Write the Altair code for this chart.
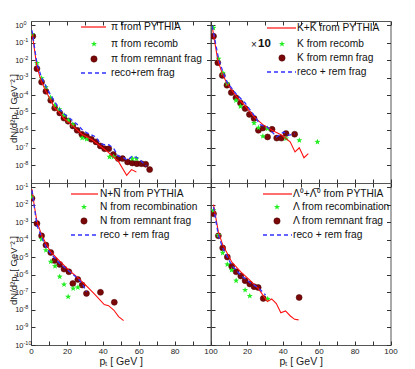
import math
import altair as alt
import pandas as pd

FONT = "Liberation Sans"
RED = "#ff1010"
GREEN = "#22ee22"
BROWN = "#7a0808"
BLUE = "#3030ff"
W, H = 179.5, 162

# ---------------- data ----------------
# pion panel
pi_pythia_pt = [0.55, 3.3, 5.9, 8.3, 11, 13.2, 16, 18.3, 23.3, 28.3, 33.6, 38.6, 43.3, 48.6, 53.3, 56, 58.7]
pi_pythia_y = [4.0e-1, 4.1e-3, 5.6e-4, 1.66e-4, 5.1e-5, 1.86e-5, 9.8e-6, 4.7e-6, 1.78e-6, 6.0e-7,
               3.1e-7, 1.29e-7, 5.4e-8, 1.74e-8, 2.75e-9, 5.8e-9, 4.3e-9]
pi_reco_pt = [0.55, 3.3, 5.9, 8.3, 10.8, 13.2, 15.8, 18.4, 20.8, 23.3, 28.5, 31, 43.7, 46, 56.4, 58.8]
pi_reco_y = [2.95e-1, 6.8e-3, 9.3e-4, 2.9e-4, 7.4e-5, 2.7e-5, 1.58e-5, 7.2e-6, 3.7e-6, 2.14e-6,
             3.7e-7, 3.1e-7, 3.1e-8, 3.1e-8, 2.45e-8, 2.45e-8]
pi_rem_pt = [1, 3.3, 5.9, 8.3, 11, 13.2, 16, 18.3, 20.7, 23.3, 25.7, 28.3, 30.9, 33.6, 36.2, 38.6,
             41, 43.3, 45.9, 48.6, 51, 53.8, 56.4, 59, 61.5, 63.9, 66.1]
pi_rem_y = [2.3e-1, 3.24e-3, 5.6e-4, 1.66e-4, 5.1e-5, 1.86e-5, 9.8e-6, 5.0e-6, 3.3e-6, 1.78e-6,
            1.0e-6, 6.0e-7, 4.6e-7, 3.1e-7, 2.2e-7, 1.29e-7, 8.9e-8, 8.9e-8, 4.2e-8, 2.45e-8,
            2.45e-8, 1.58e-8, 1.38e-8, 1.26e-8, 1.26e-8, 1.17e-8, 5.8e-9]
pi_sum_pt = [0.55, 3.3, 5.9, 8.3, 11, 13.2, 16, 18.4, 20.8, 23.3, 25.7, 28.3, 30.9, 33.6, 36.2,
             38.6, 41, 43.3, 45.9, 48.6, 51, 53.8, 56.4, 59, 61.5, 64.3]
pi_sum_y = [5.0e-1, 6.3e-3, 1.0e-3, 3.2e-4, 1.0e-4, 4.2e-5, 1.58e-5, 8.9e-6, 5.8e-6, 3.4e-6,
            2.2e-6, 1.15e-6, 7.4e-7, 5.6e-7, 4.2e-7, 1.74e-7, 1.51e-7, 1.51e-7, 9.8e-8, 3.5e-8,
            3.0e-8, 1.95e-8, 3.5e-8, 2.8e-8, 1.74e-8, 9.3e-9]

# kaon panel
k_pythia_pt = [0.7, 3.8, 6.3, 8.9, 13.9, 19, 24, 28.9, 34, 39.5, 44.1, 46.8, 49.2, 51.8, 54.2]
k_pythia_y = [7.8e-1, 9.8e-3, 1.7e-3, 4.6e-4, 9.1e-5, 2.45e-5, 5.8e-6, 2.1e-6, 1.0e-6, 5.2e-7,
              2.2e-7, 5.9e-8, 1.02e-7, 2.75e-8, 4.7e-8]
k_reco_pt = [1.4, 4.2, 6.6, 9.1, 13.9, 16.4, 24, 26.4, 28.9, 31.5, 41.8, 49.2, 59.3]
k_reco_y = [6.8e-1, 1.2e-2, 1.86e-3, 4.6e-4, 5.1e-5, 2.3e-5, 2.6e-6, 1.41e-6, 4.6e-7, 1.26e-6,
            3.4e-7, 2.7e-7, 2.2e-7]
k_rem_pt = [1.4, 3.8, 6.3, 8.9, 11.3, 13.9, 16.4, 19, 21.4, 24, 26.4, 28.9, 31.5, 34, 36.6, 39.2,
            41.8, 46.6]
k_rem_y = [2.3e-1, 7.1e-3, 1.35e-3, 3.7e-4, 1.41e-4, 7.2e-5, 3.6e-5, 1.74e-5, 8.1e-6, 4.7e-6,
           1.0e-6, 1.35e-6, 4.2e-7, 1.15e-6, 3.6e-7, 3.6e-7, 6.5e-7, 6.0e-7]
k_sum_pt = [0.7, 4.2, 6.6, 9.1, 13.9, 19, 24, 27.4, 31.5, 36.6, 40.4, 43.2, 46.6]
k_sum_y = [8.9e-1, 1.2e-2, 2.2e-3, 5.2e-4, 1.23e-4, 3.6e-5, 7.2e-6, 2.1e-6, 1.55e-6, 4.2e-7,
           8.1e-7, 5.2e-7, 6.5e-7]

# nucleon panel
n_pythia_pt = [0.55, 1.8, 3.3, 5.9, 8.3, 11, 16, 21.1, 26.1, 30.9, 35.8, 40.8, 43.2, 46.1, 48.8, 51.6]
n_pythia_y = [7.4e-2, 9.1e-3, 1.12e-3, 1.82e-4, 6.0e-5, 2.0e-5, 6.0e-6, 1.86e-6, 6.8e-7, 2.3e-7,
              7.1e-8, 2.0e-8, 1.74e-8, 9.8e-9, 4.1e-9, 2.45e-9]
n_reco_pt = [0.55, 5.9, 8.3, 11, 13.4, 16, 18.4, 20.7, 23.5, 26.1]
n_reco_y = [2.7e-2, 1.07e-4, 2.5e-5, 5.5e-6, 3.1e-6, 7.8e-7, 2.8e-7, 5.6e-8, 1.66e-7, 1.9e-7]
n_rem_pt = [0.55, 3.3, 5.9, 8.3, 11, 13.2, 16, 18.4, 21.1, 23.3, 26.1, 28.5, 30.9, 38.7, 46.4]
n_rem_y = [2.3e-2, 8.3e-4, 1.66e-4, 4.9e-5, 1.86e-5, 6.5e-6, 3.9e-6, 2.1e-6, 1.48e-6, 3.2e-7,
           5.4e-7, 2.6e-7, 8.7e-8, 1.0e-7, 2.7e-8]
n_sum_pt = [0.55, 3.3, 5.9, 8.3, 11, 16, 21.1, 26.1, 28.5, 30.9]
n_sum_y = [6.5e-2, 6.6e-4, 1.45e-4, 3.9e-5, 1.62e-5, 4.4e-6, 1.62e-6, 6.2e-7, 3.2e-7, 1.07e-7]

# lambda panel
l_pythia_pt = [1.4, 4.1, 6.5, 11.5, 16.6, 21.6, 26.3, 31.4, 33.8, 36.4, 38.9, 41.5, 44.2, 46.6, 48.8]
l_pythia_y = [1.0e-2, 2.75e-4, 5.2e-5, 5.5e-6, 1.48e-6, 5.0e-7, 1.66e-7, 3.0e-8, 4.2e-8, 2.3e-8,
              6.9e-9, 8.7e-9, 4.5e-9, 2.9e-9, 2.7e-9]
l_reco_pt = [1.4, 4.1, 6.5, 9.1, 11.5, 14, 19, 21.6, 31.6]
l_reco_y = [4.7e-3, 1.82e-4, 1.78e-5, 3.9e-6, 1.86e-6, 4.6e-7, 1.35e-7, 6.2e-8, 4.2e-8]
l_rem_pt = [1.4, 4.1, 6.5, 9.1, 11.5, 14, 16.6, 19, 21.6, 24, 26.3, 29.1, 49.1]
l_rem_y = [3.0e-3, 1.66e-4, 3.4e-5, 1.02e-5, 3.1e-6, 1.48e-6, 8.5e-7, 4.6e-7, 3.0e-7, 2.1e-7,
           1.9e-7, 4.5e-8, 5.1e-8]
l_sum_pt = [1.4, 4.1, 6.5, 11.5, 16.6, 21.6, 26.3, 30.4]
l_sum_y = [7.2e-3, 1.82e-4, 3.4e-5, 3.5e-6, 9.5e-7, 3.6e-7, 1.82e-7, 7.1e-8]

# legend texts
pi_labels = ["\u03c0 from PYTHIA", "\u03c0 from recomb", "\u03c0 from remnant frag", "reco+rem frag"]
k_labels = ["K+K\u0305 from PYTHIA", "K from recomb", "K from remn frag", "reco + rem frag"]
n_labels = ["N+N\u0305 from PYTHIA", "N from recombination", "N from remnant frag", "reco + rem frag"]
l_labels = ["\u039b\u2070+\u039b\u0305\u2070 from PYTHIA", "\u039b from recombination",
            "\u039b from remnant frag", "reco + rem frag"]

# tick values and labels (10 with an exponent)
x_ticks = [0, 10, 20, 30, 40, 50, 60, 70, 80, 90, 100]
top_tick_values = [1e0, 1e-1, 1e-2, 1e-3, 1e-4, 1e-5, 1e-6, 1e-7, 1e-8]
top_tick_exps = ["0", "-1", "-2", "-3", "-4", "-5", "-6", "-7", "-8"]
bot_tick_values = [1e-1, 1e-2, 1e-3, 1e-4, 1e-5, 1e-6, 1e-7, 1e-8, 1e-9, 1e-10]
bot_tick_exps = ["-1", "-2", "-3", "-4", "-5", "-6", "-7", "-8", "-9", "-10"]

TOP_DOMAIN = [1e-9, 10 ** 0.228]
BOT_DOMAIN = [1e-10, 10 ** -0.772]

# ---------------- styling helpers ----------------
def star_path(r_in=0.42):
    pts = []
    for k in range(10):
        r = 1.0 if k % 2 == 0 else r_in
        a = math.radians(-90 + 36 * k)
        pts.append(f"{r * math.cos(a):.3f},{r * math.sin(a):.3f}")
    return "M" + "L".join(pts) + "Z"


STAR = star_path()
TICK = 4
LABPAD = 8


def log_label_expr(values, labels):
    expr = "''"
    for v, lab in reversed(list(zip(values, labels))):
        expr = f"datum.value > {v / 3.1623:.3e} && datum.value < {v * 3.1623:.3e} ? '{lab}' : ({expr})"
    return expr


def df(pt, y):
    return pd.DataFrame({"pt": pt, "y": y})


def panel(pyth, reco, rem, summ, labels, ydom, yvals, yexps, show_x, show_y, right, leg, note=False):
    xs = alt.Scale(domain=[0, 100], nice=False, zero=False)
    ys = alt.Scale(type="log", domain=ydom, nice=False)
    common = dict(ticks=True, tickSize=TICK, offset=-TICK, domain=False, grid=False,
                  tickColor="#333", labelColor="#222", labelFont=FONT, titleFont=FONT)

    xcond = "datum.value % 20 == 0 && datum.value > 0" if right else "datum.value % 20 == 0"
    xa_main = dict(common, values=x_ticks, orient="bottom", labels=show_x,
                   labelExpr=f"{xcond} ? datum.label : ''",
                   labelFontSize=8, labelPadding=2, labelFlush=False)
    if show_x:
        xa_main.update(titleFontSize=10.5, titlePadding=1, titleColor="#222", titleFontWeight="normal")
    ya_main = dict(common, values=yvals, orient="left", labels=show_y,
                   labelExpr="'10'", labelFontSize=7.5, labelPadding=LABPAD, labelAlign="right")
    if show_y:
        ya_main.update(titleFontSize=9.5, titleColor="#222", titleFontWeight="normal",
                       titleAngle=270, titleAlign="center", titleBaseline="middle",
                       titleX=-21.5, titleY=H / 2 + 6)
    ya_exp = dict(common, values=yvals, orient="left", labels=show_y, tickOpacity=0,
                  labelExpr=log_label_expr(yvals, yexps), labelFontSize=5.5, labelPadding=LABPAD,
                  labelAlign="left", labelBaseline="middle", labelOffset=-3)

    x_title = "p\u209c [ GeV ]" if show_x else None
    y_title = "dN/d\u00b2p\u209c [ GeV\u207b\u00b2 ]" if show_y else None

    red = alt.Chart(df(*pyth)).mark_line(color=RED, strokeWidth=1.1, clip=True).encode(
        x=alt.X("pt:Q", scale=xs, axis=alt.Axis(**xa_main), title=x_title),
        y=alt.Y("y:Q", scale=ys, axis=alt.Axis(**ya_main), title=y_title),
    )
    blue = alt.Chart(df(*summ)).mark_line(color=BLUE, strokeWidth=1.3, strokeDash=[4, 3], clip=True).encode(
        x=alt.X("pt:Q", scale=xs, axis=alt.Axis(**dict(common, values=x_ticks, orient="top", labels=False)), title=None),
        y=alt.Y("y:Q", scale=ys, axis=alt.Axis(**dict(common, values=yvals, orient="right", labels=False)), title=None),
    )
    stars = alt.Chart(df(*reco)).mark_point(shape=STAR, filled=True, color=GREEN, size=40, opacity=1, clip=True).encode(
        x=alt.X("pt:Q", scale=xs, axis=None),
        y=alt.Y("y:Q", scale=ys, axis=alt.Axis(**ya_exp), title=None))
    circles = alt.Chart(df(*rem)).mark_point(shape="circle", filled=True, fill=BROWN, stroke="#4a0000",
                                             strokeWidth=0.5, size=36, opacity=1, clip=True).encode(
        x=alt.X("pt:Q", scale=xs, axis=None), y=alt.Y("y:Q", scale=ys, axis=None))

    lx0, lx1, sx, tx, rows = leg
    one = pd.DataFrame({"k": [0]})
    legend = [
        alt.Chart(one).mark_rule(color=RED, strokeWidth=1.2).encode(
            x=alt.value(lx0), x2=alt.value(lx1), y=alt.value(rows[0])),
        alt.Chart(one).mark_point(shape=STAR, filled=True, color=GREEN, size=40, opacity=1).encode(
            x=alt.value(sx), y=alt.value(rows[1])),
        alt.Chart(one).mark_point(shape="circle", filled=True, fill=BROWN, stroke="#4a0000",
                                  strokeWidth=0.5, size=40, opacity=1).encode(
            x=alt.value(sx), y=alt.value(rows[2])),
        alt.Chart(one).mark_rule(color=BLUE, strokeWidth=1.3, strokeDash=[4, 3]).encode(
            x=alt.value(lx0), x2=alt.value(lx1), y=alt.value(rows[3])),
    ]
    for lab, ry in zip(labels, rows):
        legend.append(alt.Chart(pd.DataFrame({"t": [lab]})).mark_text(
            align="left", baseline="middle", font=FONT, fontSize=10.2, color="#111").encode(
            x=alt.value(tx), y=alt.value(ry), text="t:N"))
    if note:
        legend.append(alt.Chart(pd.DataFrame({"t": ["\u00d7"]})).mark_text(
            align="center", baseline="middle", font=FONT, fontSize=10, color="#111").encode(
            x=alt.value(43), y=alt.value(rows[1] + 1), text="t:N"))
        legend.append(alt.Chart(pd.DataFrame({"t": ["10"]})).mark_text(
            align="left", baseline="middle", font=FONT, fontSize=11.5, fontWeight="bold", color="#111").encode(
            x=alt.value(47), y=alt.value(rows[1]), text="t:N"))

    return alt.layer(circles, stars, red, blue, *legend).resolve_axis(
        x="independent", y="independent").properties(width=W, height=H)


tl = panel((pi_pythia_pt, pi_pythia_y), (pi_reco_pt, pi_reco_y), (pi_rem_pt, pi_rem_y),
           (pi_sum_pt, pi_sum_y), pi_labels, TOP_DOMAIN, top_tick_values, top_tick_exps,
           False, True, False, (50, 75, 63, 80, [6, 23, 38, 52]))
tr = panel((k_pythia_pt, k_pythia_y), (k_reco_pt, k_reco_y), (k_rem_pt, k_rem_y),
           (k_sum_pt, k_sum_y), k_labels, TOP_DOMAIN, top_tick_values, top_tick_exps,
           False, False, True, (56, 85, 71, 86, [7, 23, 37, 51]), note=True)
bl = panel((n_pythia_pt, n_pythia_y), (n_reco_pt, n_reco_y), (n_rem_pt, n_rem_y),
           (n_sum_pt, n_sum_y), n_labels, BOT_DOMAIN, bot_tick_values, bot_tick_exps,
           True, True, False, (40, 67, 53, 69, [11, 24, 38, 52]))
br = panel((l_pythia_pt, l_pythia_y), (l_reco_pt, l_reco_y), (l_rem_pt, l_rem_y),
           (l_sum_pt, l_sum_y), l_labels, BOT_DOMAIN, bot_tick_values, bot_tick_exps,
           True, False, True, (52, 81, 66, 82, [11, 24, 38, 52]))

chart = alt.concat(tl, tr, bl, br, columns=2, spacing=0, bounds="flush").properties(
    padding={"left": 0, "top": 11, "right": 5, "bottom": 2},
    background="white",
).configure_view(stroke="#555", strokeWidth=1)

chart.save("out.html", embed_options={"renderer": "svg", "actions": False})
